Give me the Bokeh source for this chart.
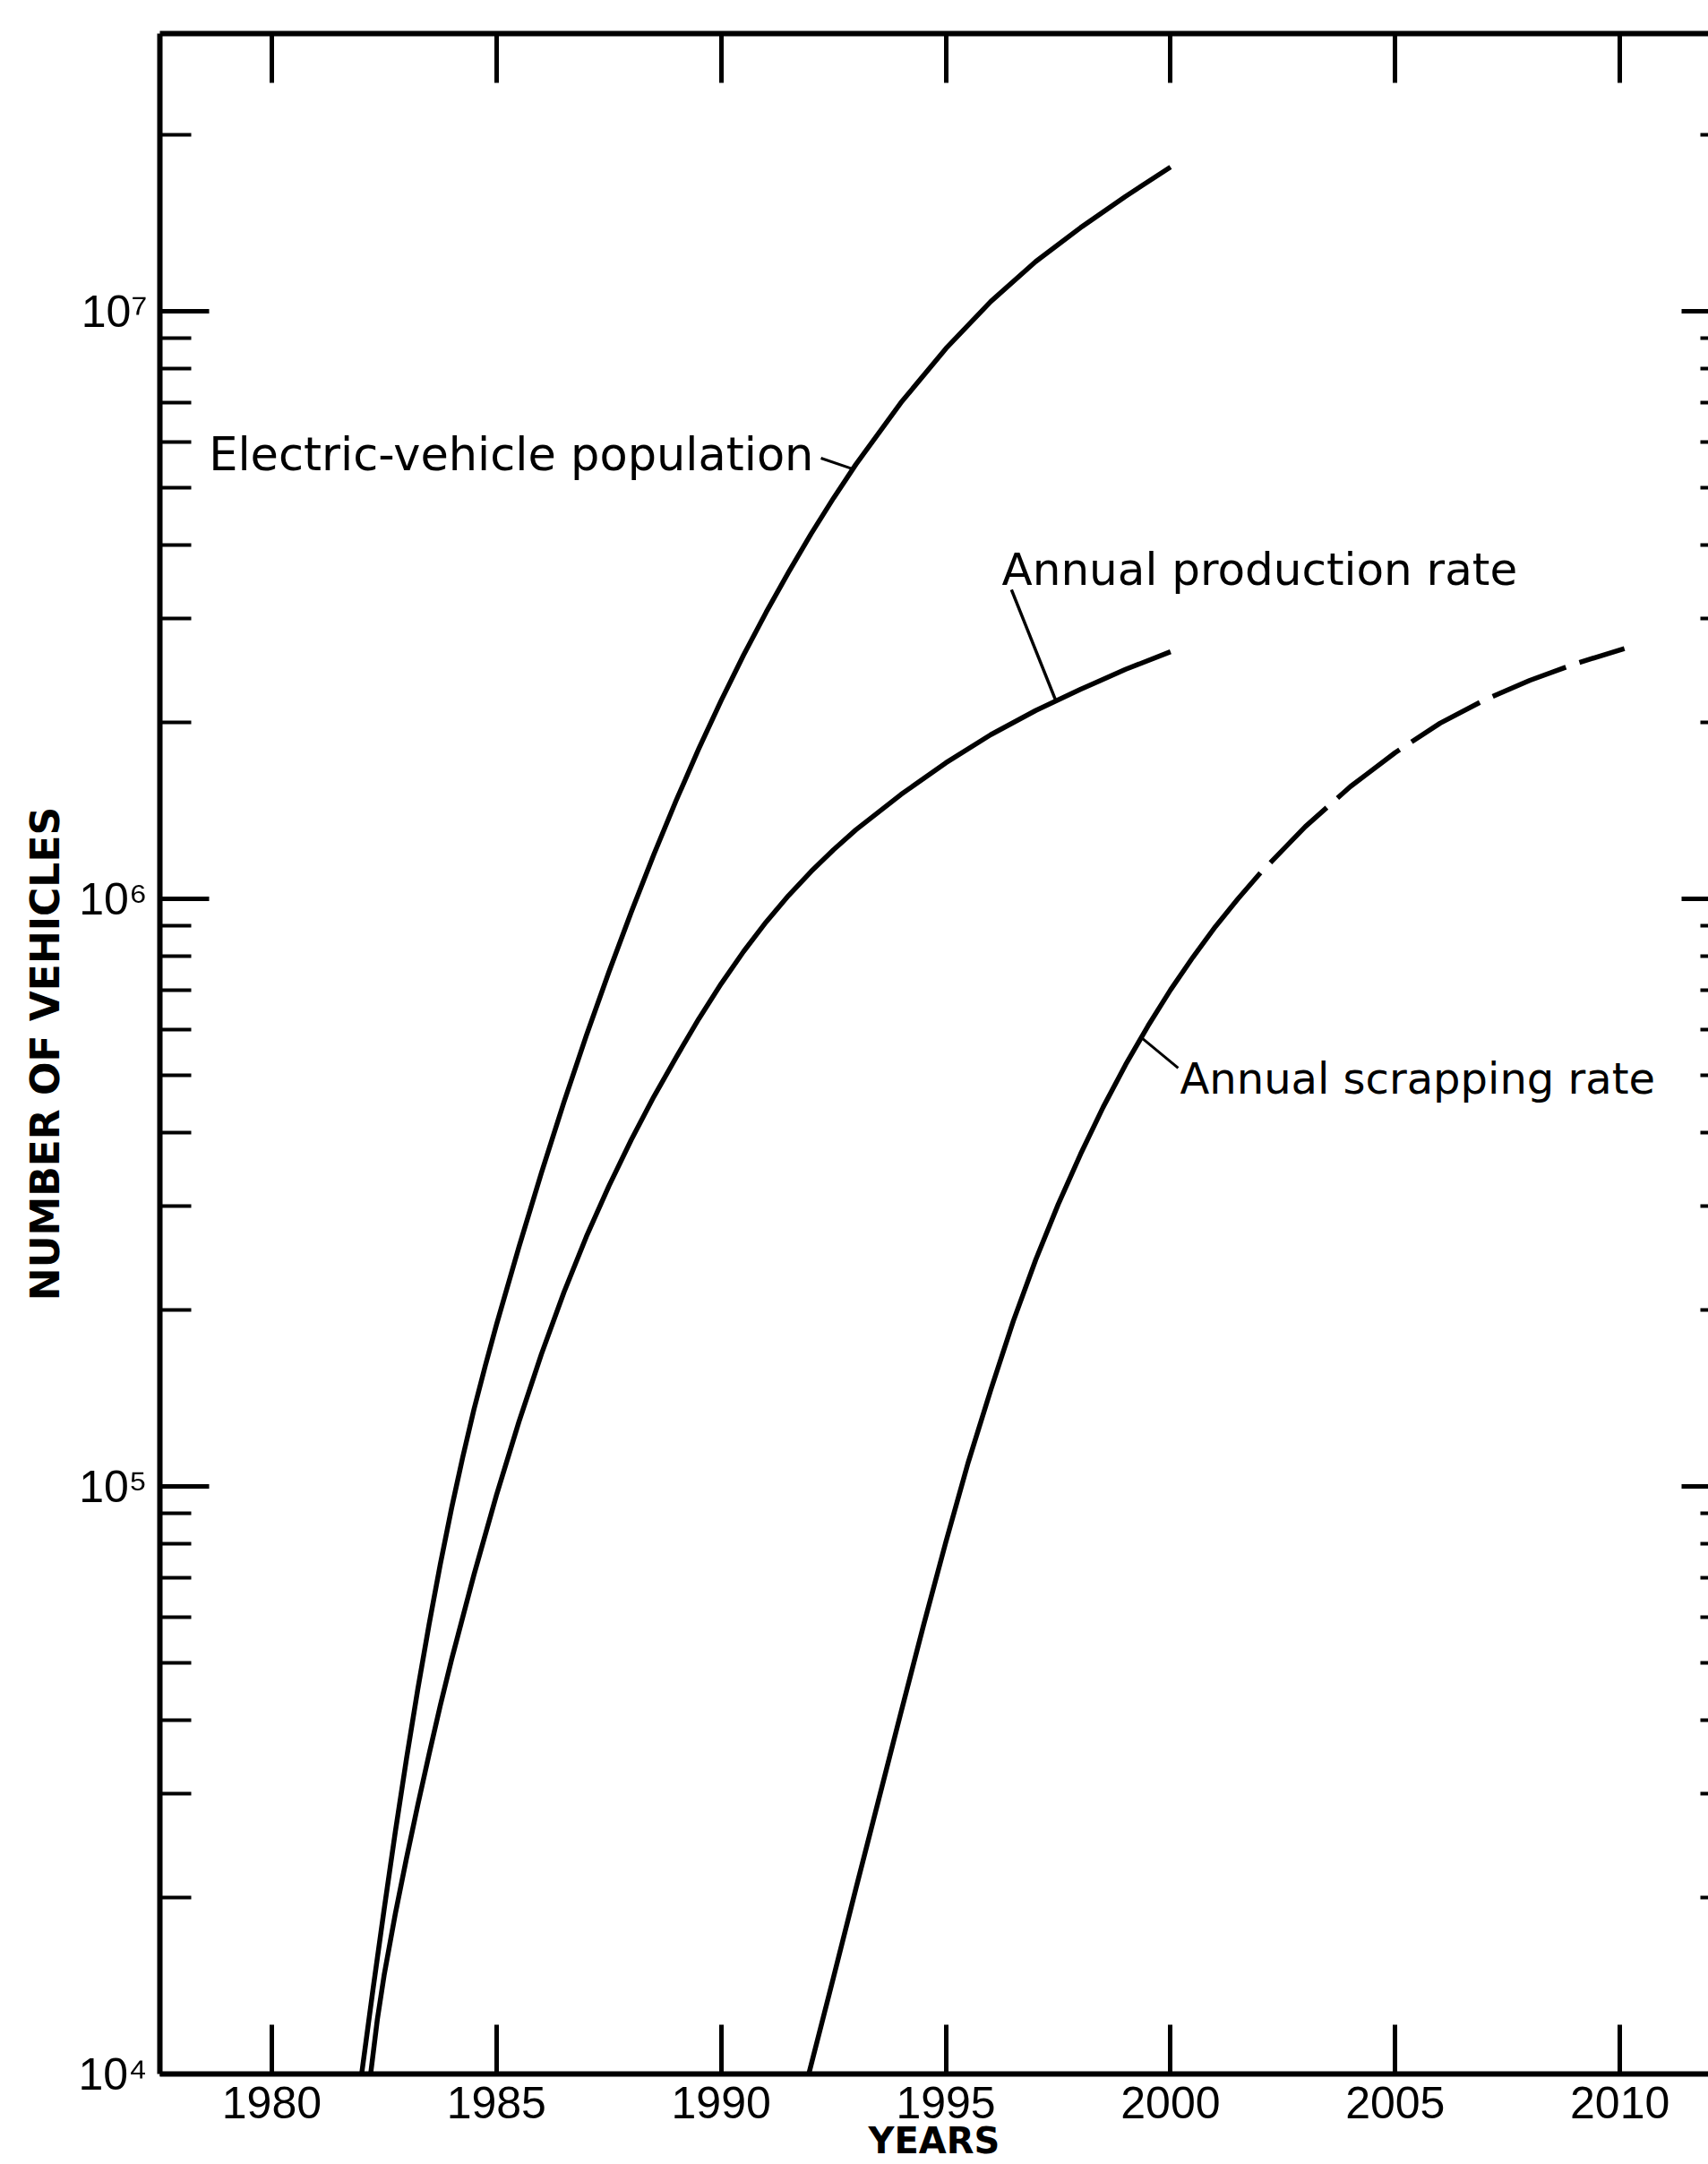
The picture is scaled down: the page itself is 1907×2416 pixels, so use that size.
import numpy as np
from bokeh.plotting import figure
from bokeh.models import Range1d, FixedTicker, LinearAxis, LogAxis
from bokeh.core.properties import value
from bokeh.embed import file_html
from bokeh.resources import INLINE

# ---------------- data ----------------
pop_years = [1982.0, 1982.25, 1982.5, 1982.75, 1983.0, 1983.25, 1983.5, 1983.75, 1984.0,
             1984.25, 1984.5, 1984.75, 1985.0, 1985.5, 1986.0, 1986.5, 1987.0, 1987.5,
             1988.0, 1988.5, 1989.0, 1989.5, 1990.0, 1990.5, 1991.0, 1991.5, 1992.0,
             1992.5, 1993.0, 1994.0, 1995.0, 1996.0, 1997.0, 1998.0, 1999.0, 2000.0]
pop_values = [10000, 13890, 19050, 25850, 34470, 45190, 58210, 73710, 91730,
              112200, 135300, 160300, 188400, 255600, 341600, 450400, 585500, 749900,
              949500, 1189000, 1471000, 1799000, 2175000, 2600000, 3073000, 3597000, 4178000,
              4808000, 5490000, 6990000, 8641000, 10390000, 12150000, 13880000, 15690000, 17600000]

prod_years = [1982.2, 1982.35, 1982.5, 1982.75, 1983.0, 1983.25, 1983.5, 1983.75, 1984.0,
              1984.5, 1985.0, 1985.5, 1986.0, 1986.5, 1987.0, 1987.5, 1988.0, 1988.5,
              1989.0, 1989.5, 1990.0, 1990.5, 1991.0, 1991.5, 1992.0, 1992.5, 1993.0,
              1994.0, 1995.0, 1996.0, 1997.0, 1998.0, 1999.0, 2000.0]
prod_values = [10000, 12390, 14720, 18750, 23330, 28710, 34990, 42360, 50700,
               70790, 96610, 128800, 167900, 213800, 266100, 324300, 389000, 460300,
               537700, 624400, 716900, 813800, 913000, 1013000, 1113000, 1212000, 1311000,
               1505000, 1704000, 1903000, 2092000, 2273000, 2458000, 2634000]

scrap_years = [1991.95, 1992.5, 1993.0, 1993.5, 1994.0, 1994.5, 1995.0, 1995.5, 1996.0,
               1996.5, 1997.0, 1997.5, 1998.0, 1998.5, 1999.0, 1999.5, 2000.0, 2000.5,
               2001.0, 2001.5, 2002.0]
scrap_values = [10000, 14600, 20700, 29200, 41200, 57900, 80400, 110000, 146000,
                191000, 243000, 302000, 368000, 442000, 522000, 608000, 700000, 796000,
                897000, 1000000, 1107000]

scrap_proj_years = [2002.0, 2003.0, 2004.0, 2005.0, 2006.0, 2007.0, 2008.0, 2009.0, 2010.1]
scrap_proj_values = [1107000, 1327000, 1552000, 1774000, 1991000, 2183000, 2355000, 2512000, 2667000]

x_ticks = [1980, 1985, 1990, 1995, 2000, 2005, 2010]
x_tick_labels = ["1980", "1985", "1990", "1995", "2000", "2005", "2010"]
y_ticks = [1e4, 1e5, 1e6, 1e7]
y_tick_labels = ["10\u2074", "10\u2075", "10\u2076", "10\u2077"]

labels = ["Electric-vehicle population", "Annual production rate", "Annual scrapping rate"]
x_title = "YEARS"
y_title = "NUMBER OF VEHICLES"

# ---------------- figure ----------------
X0, X1 = 1977.51, 2011.97
Y0, Y1 = 1e4, 10 ** 7.4726

p = figure(frame_width=1729, frame_height=2278, y_axis_type="log",
           x_range=Range1d(X0, X1), y_range=Range1d(Y0, Y1),
           output_backend="svg", toolbar_location=None,
           min_border_left=178, min_border_right=0, min_border_top=37, min_border_bottom=101,
           background_fill_color="white", border_fill_color="white")
p.outline_line_color = None
p.xgrid.grid_line_color = None
p.ygrid.grid_line_color = None

minor = [k * 10 ** n for n in (4, 5, 6, 7) for k in range(2, 10) if k * 10 ** n < Y1]

# bottom axis
xa = p.xaxis[0]
xa.ticker = FixedTicker(ticks=x_ticks)
xa.major_label_overrides = {t: l for t, l in zip(x_ticks, x_tick_labels)}
xa.axis_line_width = 6
xa.axis_line_color = "black"
xa.major_tick_in = 55
xa.major_tick_out = 0
xa.major_tick_line_width = 5
xa.major_tick_line_color = "black"
xa.minor_tick_line_color = None
xa.major_label_text_font = "Liberation Sans"
xa.major_label_text_font_size = "50px"
xa.major_label_text_color = "black"
xa.major_label_standoff = 14
xa.axis_label = x_title
xa.axis_label_text_font = "DejaVu Sans"
xa.axis_label_text_font_style = "bold"
xa.axis_label_text_font_size = "40px"
xa.axis_label_text_color = "black"
xa.axis_label_standoff = -1

# left axis
ya = p.yaxis[0]
ya.ticker = FixedTicker(ticks=y_ticks, minor_ticks=minor)
ya.major_label_overrides = {t: l for t, l in zip(y_ticks, y_tick_labels)}
ya.axis_line_width = 6
ya.axis_line_color = "black"
ya.major_tick_in = 55
ya.major_tick_out = 0
ya.major_tick_line_width = 5
ya.major_tick_line_color = "black"
ya.minor_tick_in = 35
ya.minor_tick_out = 0
ya.minor_tick_line_width = 4
ya.minor_tick_line_color = "black"
ya.major_label_text_font = "Liberation Sans"
ya.major_label_text_font_size = "50px"
ya.major_label_text_color = "black"
ya.major_label_standoff = 14
ya.axis_label = y_title
ya.axis_label_text_font = "DejaVu Sans"
ya.axis_label_text_font_style = "bold"
ya.axis_label_text_font_size = "44px"
ya.axis_label_text_color = "black"
ya.axis_label_standoff = 8

# top axis (ticks only)
top = LinearAxis(ticker=FixedTicker(ticks=x_ticks), axis_line_width=6, axis_line_color="black",
                 major_tick_in=55, major_tick_out=0, major_tick_line_width=5,
                 major_tick_line_color="black", minor_tick_line_color=None,
                 major_label_overrides={t: "" for t in x_ticks},
                 major_label_text_color=None, major_label_standoff=0)
p.add_layout(top, "above")

# right axis (its line is cut off by the picture edge: ticks only)
right = LogAxis(ticker=FixedTicker(ticks=y_ticks, minor_ticks=minor), axis_line_color=None,
                major_tick_in=30, major_tick_out=0, major_tick_line_width=5,
                major_tick_line_color="black",
                minor_tick_in=9, minor_tick_out=0, minor_tick_line_width=4,
                minor_tick_line_color="black",
                major_label_overrides={t: "" for t in y_ticks},
                major_label_text_color=None, major_label_standoff=0)
p.add_layout(right, "right")

LW = 5.5
p.line(pop_years, pop_values, line_color="black", line_width=LW, line_join="round")
p.line(prod_years, prod_values, line_color="black", line_width=LW, line_join="round")
p.line(scrap_years, scrap_values, line_color="black", line_width=LW, line_join="round")
p.line(scrap_proj_years, scrap_proj_values, line_color="black", line_width=LW,
       line_join="round", line_dash="88 16", line_dash_offset=88)

# annotations
ann_font = value("DejaVu Sans")
p.text(x=[1978.60], y=[10 ** 6.756], text=[labels[0]], text_font=ann_font,
       text_font_size="51px", text_align="left", text_baseline="alphabetic", text_color="black")
p.text(x=[1996.245], y=[10 ** 6.561], text=[labels[1]], text_font=ann_font,
       text_font_size="50px", text_align="left", text_baseline="alphabetic", text_color="black")
p.text(x=[2000.21], y=[10 ** 5.695], text=[labels[2]], text_font=ann_font,
       text_font_size="48px", text_align="left", text_baseline="alphabetic", text_color="black")


def on_curve(xs, vs, x):
    return 10 ** np.interp(x, xs, np.log10(vs))


p.line([1992.22, 1992.93], [10 ** 6.75, on_curve(pop_years, pop_values, 1992.93)],
       line_color="black", line_width=3)
p.line([1996.46, 1997.45], [10 ** 6.526, on_curve(prod_years, prod_values, 1997.45)],
       line_color="black", line_width=3.5)
p.line([1999.35, 2000.17], [on_curve(scrap_years, scrap_values, 1999.35), 10 ** 5.712],
       line_color="black", line_width=3)

open("out.html", "w").write(file_html(p, INLINE))
